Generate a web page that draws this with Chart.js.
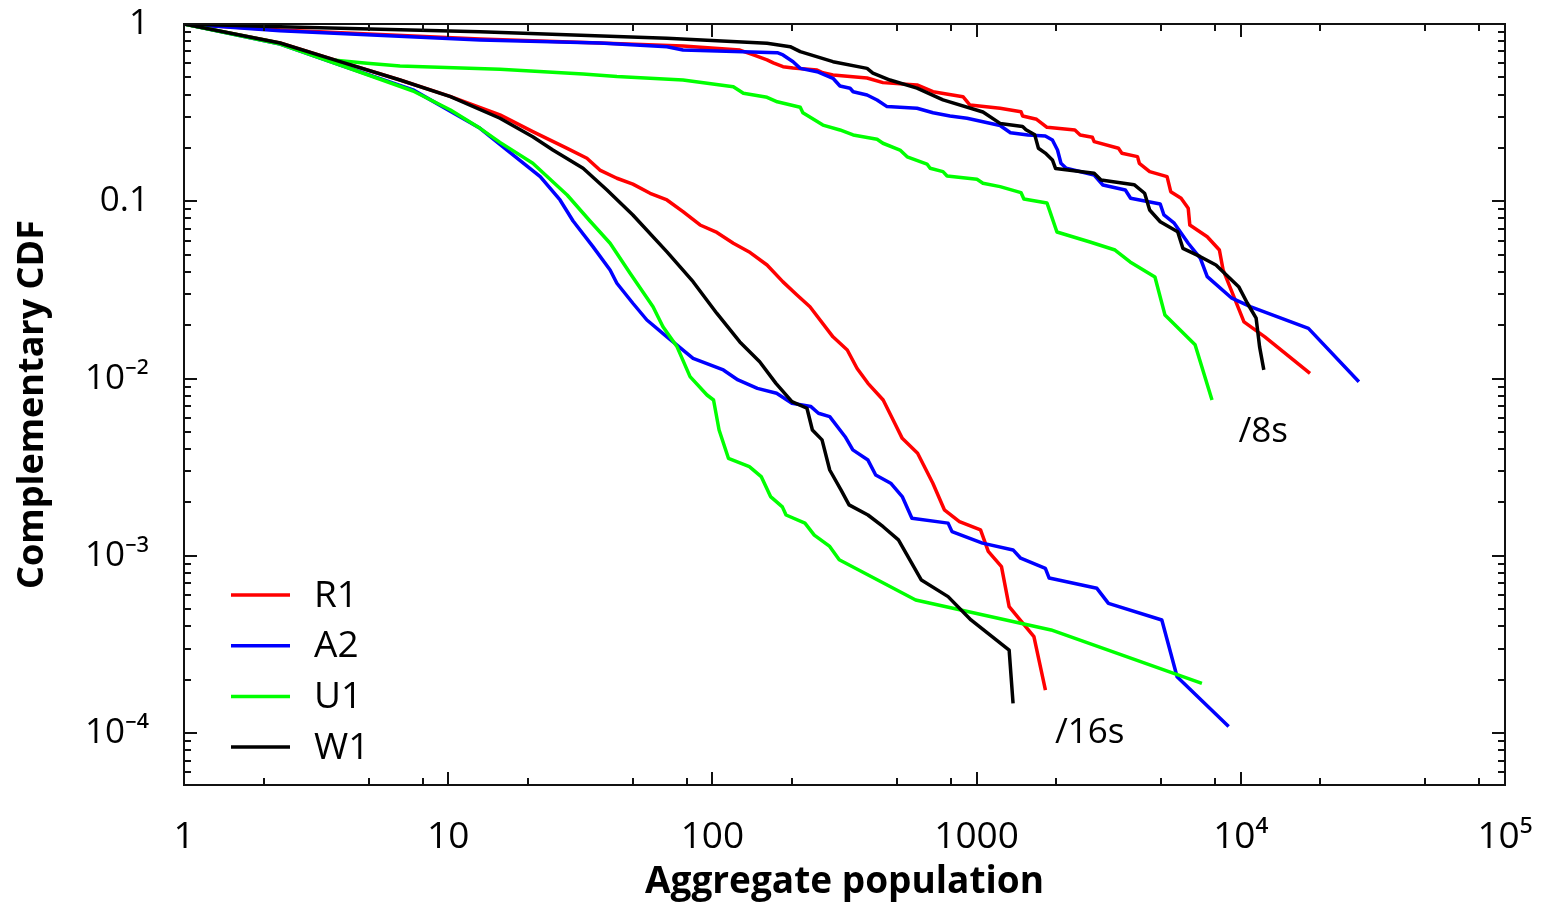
<!DOCTYPE html>
<html>
<head>
<meta charset="utf-8">
<script src="https://cdn.jsdelivr.net/npm/chart.js@4.4.1/dist/chart.umd.min.js"></script>
<style>
html,body{margin:0;padding:0;background:#fff;}
#wrap{width:1543px;height:908px;}
</style>
</head>
<body>
<div id="wrap"><canvas id="c" width="1543" height="908"></canvas></div>
<script>
// ---------- series meta ----------
const seriesNames = ['R1', 'A2', 'U1', 'W1'];
const seriesColors = ['#ff0000', '#0000ff', '#00ff00', '#000000'];

// ---------- /8s group ----------
const r1_8s_x = [1,2.31,13.2,37.5,77.4,127,143,161,170,185,202,249,262,286,385,442,595,684,888,944,1227,1472,1493,1687,1847,2355,2466,2742,2786,3443,3548,4064,4130,4519,5260,5430,5943,6324,6412,7464,8298,8570,10280,12330,18280];
const r1_8s_y = [1,0.925,0.823,0.781,0.751,0.713,0.669,0.627,0.603,0.574,0.565,0.550,0.531,0.516,0.496,0.467,0.453,0.415,0.389,0.349,0.3346,0.320,0.303,0.290,0.2615,0.2525,0.2366,0.2296,0.217,0.199,0.1866,0.1786,0.1638,0.147,0.1377,0.1133,0.1040,0.0914,0.0735,0.0631,0.0531,0.0410,0.0209,0.0172,0.0107];

const a2_8s_x = [1,2.31,13.2,37.5,67.3,77.4,176,185,202,215,249,286,304,332,341,385,420,458,595,684,793,920,1227,1343,1564,1820,1936,2024,2086,2183,2786,3006,3656,3828,4955,5117,5598,6324,7030,7464,9247,10920,18030,27990];
const a2_8s_y = [1,0.917,0.812,0.781,0.745,0.713,0.689,0.669,0.613,0.562,0.538,0.494,0.447,0.434,0.415,0.398,0.3726,0.342,0.3346,0.316,0.303,0.294,0.2677,0.2437,0.2366,0.2335,0.2218,0.1946,0.1638,0.1535,0.1407,0.1236,0.1158,0.1040,0.0966,0.0837,0.0752,0.0580,0.0477,0.0376,0.0284,0.0254,0.0192,0.0096];

const u1_8s_x = [1,2.31,3.66,4.93,6.57,15.7,32.4,43.5,77.4,120,131,161,176,215,220,262,304,341,420,442,513,546,649,667,746,773,1003,1057,1227,1472,1510,1847,1897,2014,2687,3342,3811,4732,5164,6714,7780];
const u1_8s_y = [1,0.778,0.627,0.600,0.580,0.555,0.522,0.505,0.483,0.443,0.407,0.386,0.364,0.339,0.316,0.269,0.2525,0.2366,0.224,0.2125,0.1946,0.1782,0.1622,0.1535,0.147,0.139,0.133,0.1263,0.121,0.112,0.103,0.0978,0.0871,0.0671,0.0589,0.0531,0.0455,0.0374,0.0228,0.0155,0.00757];

const w1_8s_x = [1,2.31,13.2,67.3,161,197,215,286,385,405,470,595,746,1057,1227,1493,1538,1660,1714,1820,1936,1991,2786,2958,3947,4325,4519,4955,5768,6035,7030,8054,9817,10590,11430,11780,12220];
const w1_8s_y = [1,0.966,0.905,0.830,0.778,0.745,0.698,0.613,0.562,0.529,0.483,0.435,0.373,0.319,0.275,0.264,0.253,0.237,0.199,0.187,0.171,0.153,0.144,0.132,0.124,0.111,0.0893,0.0767,0.0674,0.0543,0.0487,0.0437,0.0330,0.0266,0.0219,0.0151,0.0112];

// ---------- /16s group ----------
const r1_16s_x = [1,2.31,3.90,6.57,10.1,15.7,20.9,28.2,33.5,37.5,43.5,50.0,58.1,67.3,77.4,89.8,104,120,139,161,185,209,234,286,324,353,388,443,490,523,598,639,683,755,861,1035,1107,1242,1328,1648,1822];
const r1_16s_y = [1,0.781,0.613,0.483,0.392,0.307,0.247,0.199,0.1748,0.150,0.1349,0.125,0.111,0.1017,0.0874,0.0735,0.0667,0.058,0.0514,0.0437,0.0351,0.0296,0.0254,0.0172,0.0145,0.0114,0.0094,0.00757,0.0056,0.0046,0.00379,0.00312,0.00257,0.00182,0.00156,0.0014,0.00106,0.00087,0.000517,0.00035,0.000175];

const a2_16s_x = [1,2.31,3.90,7.36,13.2,16.7,22.3,26.5,29.7,35.3,41.0,43.5,50.0,56.5,67.3,84.5,110,125,148,175,200,236,252,278,318,340,388,415,473,523,569,780,807,1052,1374,1468,1821,1882,2853,3155,5024,5739,8995];
const a2_16s_y = [1,0.771,0.587,0.425,0.258,0.1946,0.1377,0.1017,0.0774,0.0555,0.041,0.0345,0.0266,0.0214,0.0172,0.013,0.01118,0.00982,0.00881,0.00826,0.00726,0.00695,0.00637,0.0061,0.0047,0.00396,0.00347,0.00286,0.00257,0.00216,0.00163,0.00153,0.00137,0.00118,0.00108,0.00097,0.00085,0.00075,0.000656,0.00054,0.000435,0.000208,0.000109];

const u1_16s_x = [1,2.31,3.90,7.36,10.2,13.2,15.7,20.9,28.2,34.4,41.0,48.8,59.6,65.0,73.5,82.3,95.4,101,106,115,138,153,166,184,190,224,243,278,302,588,1914,7125];
const u1_16s_y = [1,0.771,0.587,0.419,0.327,0.258,0.215,0.1638,0.1085,0.0774,0.058,0.0393,0.0254,0.0196,0.0151,0.01025,0.00808,0.00757,0.00513,0.00355,0.00319,0.0028,0.00216,0.00189,0.0017,0.00153,0.00131,0.00113,0.00095,0.000564,0.000382,0.000191];

const w1_16s_x = [1,2.31,3.90,6.57,10.2,15.7,20.9,24.9,32.4,39.9,50.0,67.3,84.5,104,127,151,174,200,228,239,260,278,307,329,388,443,506,618,780,952,1328,1374];
const w1_16s_y = [1,0.781,0.613,0.483,0.389,0.294,0.231,0.1946,0.1535,0.1158,0.0837,0.0518,0.0352,0.0233,0.0161,0.01245,0.0094,0.00741,0.0068,0.00513,0.00451,0.00305,0.00235,0.00194,0.0017,0.00146,0.00123,0.00073,0.000589,0.000435,0.000294,0.000147];

// ---------- axes ----------
const xTickValues = [1, 10, 100, 1000, 10000, 100000];
const xTickLabels = ['1', '10', '100', '1000', '10\u2074', '10\u2075'];
const yTickValues = [0.0001, 0.001, 0.01, 0.1, 1];
const yTickLabels = ['10\u207B\u2074', '10\u207B\u00B3', '10\u207B\u00B2', '0.1', '1'];
const xMinorMultipliers = [2, 5, 8];
const yMinorMultipliers = [2, 3, 4, 5, 6, 7, 8, 9];
const xRange = [1, 100000];
const yRange = [0.000051, 1];

// ---------- annotations ----------
const annotationTexts = ['/8s', '/16s'];
const annotationX = [9800, 1980];
const annotationY = [0.005, 0.0001];

const FONT = "'Open Sans', 'Noto Sans', 'DejaVu Sans', sans-serif";

function pts(xs, ys) { return xs.map((v, i) => ({ x: v, y: ys[i] })); }

const groups = [
  { suffix: '/8s', data: [[r1_8s_x, r1_8s_y], [a2_8s_x, a2_8s_y], [u1_8s_x, u1_8s_y], [w1_8s_x, w1_8s_y]] },
  { suffix: '/16s', data: [[r1_16s_x, r1_16s_y], [a2_16s_x, a2_16s_y], [u1_16s_x, u1_16s_y], [w1_16s_x, w1_16s_y]] }
];

const datasets = [];
groups.forEach(g => {
  g.data.forEach((d, i) => {
    datasets.push({
      label: seriesNames[i] + ' ' + g.suffix,
      data: pts(d[0], d[1]),
      borderColor: seriesColors[i],
      backgroundColor: seriesColors[i],
      borderWidth: 3.5,
      borderJoinStyle: 'round',
      pointRadius: 0,
      tension: 0,
      fill: false,
      order: 4 - i
    });
  });
});

const frameTicks = {
  id: 'frameTicks',
  afterDatasetsDraw(chart) {
    const { ctx, chartArea: a, scales: { x, y } } = chart;
    ctx.save();
    ctx.strokeStyle = '#111';
    ctx.lineWidth = 2;
    ctx.strokeRect(a.left, a.top, a.right - a.left, a.bottom - a.top);
    ctx.beginPath();
    const MAJ = 13, MIN = 7;
    for (let e = 0; e <= 5; e++) {
      const base = Math.pow(10, e);
      const p = Math.round(x.getPixelForValue(base));
      if (base > xRange[0] && base < xRange[1]) {
        ctx.moveTo(p, a.bottom); ctx.lineTo(p, a.bottom - MAJ);
        ctx.moveTo(p, a.top); ctx.lineTo(p, a.top + MAJ);
      }
      xMinorMultipliers.forEach(m => {
        const v = base * m;
        if (v > xRange[0] && v < xRange[1]) {
          const q = Math.round(x.getPixelForValue(v));
          ctx.moveTo(q, a.bottom); ctx.lineTo(q, a.bottom - MIN);
          ctx.moveTo(q, a.top); ctx.lineTo(q, a.top + MIN);
        }
      });
    }
    for (let e = -5; e <= 0; e++) {
      const base = Math.pow(10, e);
      if (base > yRange[0] && base < yRange[1]) {
        const p = Math.round(y.getPixelForValue(base));
        ctx.moveTo(a.left, p); ctx.lineTo(a.left + MAJ, p);
        ctx.moveTo(a.right, p); ctx.lineTo(a.right - MAJ, p);
      }
      yMinorMultipliers.forEach(m => {
        const v = base * m;
        if (v > yRange[0] && v < yRange[1]) {
          const q = Math.round(y.getPixelForValue(v));
          ctx.moveTo(a.left, q); ctx.lineTo(a.left + MIN, q);
          ctx.moveTo(a.right, q); ctx.lineTo(a.right - MIN, q);
        }
      });
    }
    ctx.stroke();
    ctx.restore();
  },
  afterDraw(chart) {
    const { ctx, chartArea: a, scales: { x, y } } = chart;
    ctx.save();
    // legend
    ctx.font = '37px ' + FONT;
    ctx.textAlign = 'left';
    ctx.textBaseline = 'middle';
    seriesNames.forEach((n, i) => {
      const cy = a.top + 571 + i * 50.7;
      ctx.strokeStyle = seriesColors[i];
      ctx.lineWidth = 3.5;
      ctx.beginPath();
      ctx.moveTo(a.left + 47, cy);
      ctx.lineTo(a.left + 106, cy);
      ctx.stroke();
      ctx.fillStyle = '#000';
      ctx.fillText(n, a.left + 130, cy + 1);
    });
    // annotations
    ctx.font = '35px ' + FONT;
    annotationTexts.forEach((t, i) => {
      ctx.fillText(t, x.getPixelForValue(annotationX[i]), y.getPixelForValue(annotationY[i]));
    });
    ctx.restore();
  }
};

new Chart(document.getElementById('c'), {
  type: 'line',
  data: { datasets },
  options: {
    responsive: false,
    devicePixelRatio: 1,
    animation: false,
    layout: { padding: { left: 0, right: 38, top: 24, bottom: 0 } },
    plugins: { legend: { display: false }, tooltip: { enabled: false } },
    scales: {
      x: {
        type: 'logarithmic',
        min: xRange[0], max: xRange[1],
        grid: { display: false },
        border: { display: false },
        afterBuildTicks: s => { s.ticks = xTickValues.map(v => ({ value: v })); },
        afterFit: s => { s.height = 123; s.paddingLeft = 0; s.paddingRight = 0; },
        ticks: {
          autoSkip: false, maxRotation: 0, minRotation: 0,
          padding: 22, color: '#000',
          font: { family: FONT, size: 37 },
          callback: v => { const i = xTickValues.indexOf(v); return i >= 0 ? xTickLabels[i] : ''; }
        },
        title: {
          display: true, text: 'Aggregate population', color: '#000',
          font: { family: FONT, size: 37, weight: 'bold' },
          padding: { top: 0, bottom: 3 }
        }
      },
      y: {
        type: 'logarithmic',
        min: yRange[0], max: yRange[1],
        grid: { display: false },
        border: { display: false },
        afterBuildTicks: s => { s.ticks = yTickValues.map(v => ({ value: v })); },
        afterFit: s => { s.width = 184; s.paddingTop = 0; s.paddingBottom = 0; },
        ticks: {
          autoSkip: false,
          padding: 27, color: '#000',
          font: { family: FONT, size: 35 },
          callback: v => { const i = yTickValues.indexOf(v); return i >= 0 ? yTickLabels[i] : ''; }
        },
        title: {
          display: true, text: 'Complementary CDF', color: '#000',
          font: { family: FONT, size: 36, weight: 'bold' },
          padding: { top: 11, bottom: 0 }
        }
      }
    }
  },
  plugins: [frameTicks]
});
</script>
</body>
</html>
